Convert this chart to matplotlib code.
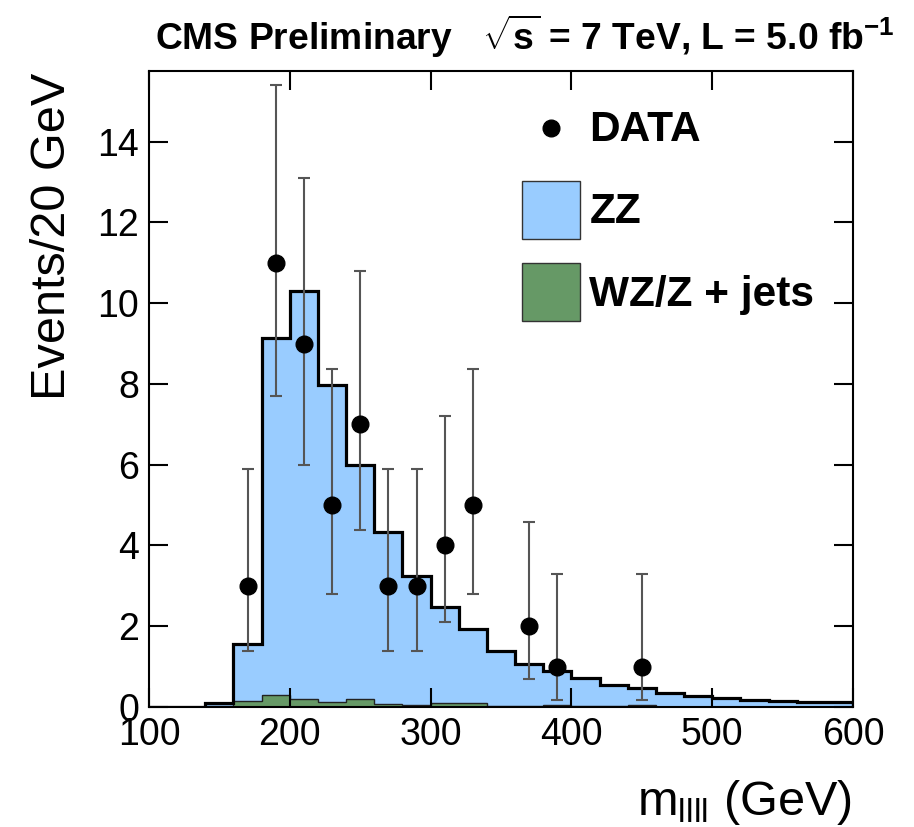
import numpy as np
import matplotlib
matplotlib.use('Agg')
from matplotlib import pyplot as plt
from matplotlib.patches import Patch
from matplotlib.lines import Line2D

plt.rcParams['font.family'] = ['Liberation Sans', 'DejaVu Sans']
plt.rcParams['mathtext.fontset'] = 'custom'
plt.rcParams['mathtext.rm'] = 'Liberation Sans'
plt.rcParams['mathtext.it'] = 'Liberation Sans'
plt.rcParams['mathtext.bf'] = 'Liberation Sans:bold'

# 20 GeV bins, 100 - 600 GeV
bin_edges = [100, 120, 140, 160, 180, 200, 220, 240, 260, 280, 300, 320, 340,
             360, 380, 400, 420, 440, 460, 480, 500, 520, 540, 560, 580, 600]

# expected events per bin (stacked: WZ/Z+jets at bottom, ZZ on top)
zz = [0.0, 0.0, 0.09, 1.42, 8.86, 10.10, 7.84, 5.80, 4.27, 3.21, 2.37, 1.84,
      1.36, 1.04, 0.85, 0.69, 0.52, 0.43, 0.34, 0.27, 0.22, 0.17, 0.15, 0.12,
      0.11]
wz_zjets = [0.0, 0.0, 0.02, 0.14, 0.29, 0.20, 0.13, 0.19, 0.07, 0.04, 0.11,
            0.09, 0.03, 0.03, 0.05, 0.02, 0.02, 0.04, 0.01, 0.01, 0.01, 0.01,
            0.01, 0.01, 0.01]

# observed data with asymmetric poisson errors
data_mass = [170, 190, 210, 230, 250, 270, 290, 310, 330, 370, 390, 450]
data_counts = [3, 11, 9, 5, 7, 3, 3, 4, 5, 2, 1, 1]
data_low = [1.39, 7.69, 6.0, 2.80, 4.39, 1.39, 1.39, 2.10, 2.80, 0.69, 0.17, 0.17]
data_high = [5.89, 15.40, 13.09, 8.38, 10.79, 5.89, 5.89, 7.20, 8.38, 4.59, 3.29, 3.29]

zz_color = '#99ccff'
wz_color = '#669966'

fig = plt.figure(figsize=(9.14, 8.27), dpi=100)
ax = fig.add_axes([149 / 914, 1 - 707 / 827, 704 / 914, 636 / 827])

edges = np.array(bin_edges)
wz = np.array(wz_zjets)
total = wz + np.array(zz)

ax.stairs(total, edges, baseline=wz, fill=True, color=zz_color, lw=0)
ax.stairs(wz, edges, fill=True, color=wz_color, lw=0)
ax.stairs(wz, edges, color='#222222', lw=1.0)
ax.stairs(total, edges, color='black', lw=2.3)

counts = np.array(data_counts)
yerr = [counts - np.array(data_low), np.array(data_high) - counts]
ax.errorbar(data_mass, counts, yerr=yerr, fmt='none', ecolor='#555555',
            elinewidth=1.5, capsize=4, capthick=1.5, zorder=4)
ax.plot(data_mass, counts, 'o', color='black', markersize=12, zorder=5)

ax.set_xlim(100, 600)
ax.set_ylim(0, 15.75)
ax.set_xticks([100, 200, 300, 400, 500, 600])
ax.set_yticks([0, 2, 4, 6, 8, 10, 12, 14])
ax.tick_params(direction='in', length=14, width=1.5, top=True, right=True,
               labelsize=27, pad=7)
for sp in ax.spines.values():
    sp.set_linewidth(1.5)

handles = [
    Line2D([], [], marker='o', color='black', ls='none', markersize=12),
    Patch(facecolor=zz_color, edgecolor='#333333', lw=1.0),
    Patch(facecolor=wz_color, edgecolor='#333333', lw=1.0),
]
leg = ax.legend(handles, ['DATA', 'ZZ', 'WZ/Z + jets'], loc='upper left',
                bbox_to_anchor=((522 - 149) / 704, (707 - 98) / 636),
                frameon=False, borderaxespad=0, borderpad=0,
                prop={'size': 30.5, 'weight': 'bold'},
                handlelength=1.37, handleheight=1.73, handletextpad=0.22,
                labelspacing=0.58)
# centre the DATA bullet on its label
marker = leg.legend_handles[0]
marker.set_ydata(np.asarray(marker.get_ydata()) - 6)

fig.text(155 / 914, 1 - 50 / 827,
         r'CMS Preliminary   $\sqrt{\mathbf{s}}$ = 7 TeV, L = 5.0 fb$^{\mathbf{-1}}$',
         fontsize=26.8, fontweight='bold', ha='left', va='baseline')
fig.text(852 / 914, 1 - 815 / 827, r'm$_{\mathrm{llll}}$ (GeV)',
         fontsize=35, ha='right', va='baseline')
fig.text(53 / 914, 1 - 73 / 827, 'Events/20 GeV', rotation=90,
         fontsize=35, ha='center', va='top')

fig.savefig('out.png', dpi=100)
